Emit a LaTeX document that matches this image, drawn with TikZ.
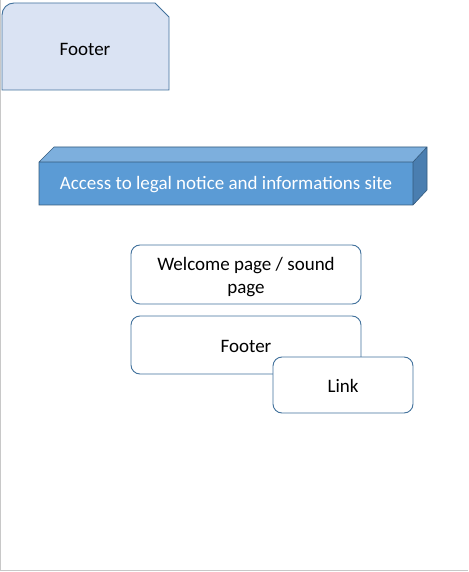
\documentclass[tikz,border=0pt]{standalone}
\usepackage{fontspec}
\setmainfont{Carlito}
\begin{document}
\begin{tikzpicture}[x=1pt,y=-1pt,
  edge/.style={draw=boxline,line width=0.9pt},
  roundbox/.style={edge,fill=white,rounded corners=9pt},
  label/.style={font=\fontsize{19}{23}\selectfont,align=center}]
\definecolor{boxline}{HTML}{41719C}
\definecolor{paleblue}{HTML}{DAE3F3}
\definecolor{front}{HTML}{5B9BD5}
\definecolor{topface}{HTML}{7DAFDD}
\definecolor{sideface}{HTML}{4A7EB0}
\definecolor{frame}{HTML}{C8C8C8}
\useasboundingbox (0,0) rectangle (468,572);
% page frame
\draw[frame,line width=1pt] (0.5,0) -- (0.5,570.5) -- (468,570.5);
% footer tab with one rounded and one snipped corner
\draw[edge,fill=paleblue] (2,90) -- (2,15) arc[start angle=180,end angle=270,radius=12] -- (155,3) -- (169,17) -- (169,90) -- cycle;
\node[label] (ftab) at (85,49) {Footer};
% 3D banner
\fill[topface] (39,162) -- (54,147) -- (427,147) -- (413,162) -- cycle;
\fill[sideface] (413,162) -- (427,147) -- (427,190) -- (413,205) -- cycle;
\fill[front] (39,162) rectangle (413,205);
\draw[draw=boxline!80!black,line width=0.6pt] (39,205) -- (39,162) -- (54,147) -- (427,147) -- (427,190) -- (413,205) -- cycle (39,162) -- (413,162) -- (413,205) (413,162) -- (427,147);
\node[label,text=white] (banner) at (226,185) {Access to legal notice and informations site};
% page boxes
\draw[roundbox] (131,245) rectangle (361,304);
\node[label,text=black] (welcome) at (246,277) {Welcome page / sound\\page};
\draw[roundbox] (131,316) rectangle (361,374);
\node[label] (footer) at (246,346) {Footer};
\draw[roundbox] (273,357) rectangle (413,413);
\node[label] (link) at (343,386) {Link};
\end{tikzpicture}
\end{document}
